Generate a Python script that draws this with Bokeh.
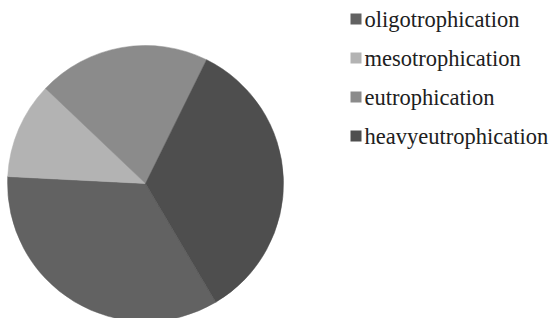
import math
from bokeh.plotting import figure
from bokeh.models import Range1d, ColumnDataSource, Label
from bokeh.embed import file_html
from bokeh.resources import INLINE

categories = ["oligotrophication", "mesotrophication", "eutrophication", "heavyeutrophication"]
shares = [34.3, 11.3, 20.2, 34.2]
colors = ["#626262", "#b3b3b3", "#8b8b8b", "#4e4e4e"]

W, H = 550, 318
p = figure(width=W, height=H, output_backend="svg", toolbar_location=None,
           x_range=Range1d(0, W), y_range=Range1d(0, H),
           min_border=0, outline_line_color=None)
p.axis.visible = False
p.grid.visible = False
p.background_fill_color = "white"
p.border_fill_color = "white"

total = sum(shares)
start0 = math.radians(-59.4)
starts, ends = [], []
a = start0
for s in shares:
    starts.append(a)
    a -= s / total * 2 * math.pi
    ends.append(a)

src = ColumnDataSource(dict(start=starts, end=ends, color=colors, cat=categories))
cx, cy, r = 145, H - 183, 138
p.wedge(x=cx, y=cy, radius=r, start_angle="start", end_angle="end", direction="clock",
        fill_color="color", line_color="color", line_width=0.5, source=src)

ly = [H - 18.5, H - 57.5, H - 96.5, H - 135.5]
lsrc = ColumnDataSource(dict(x=[355.5] * 4, y=ly, color=colors))
p.scatter(x="x", y="y", marker="square", size=11, fill_color="color", line_color=None, source=lsrc)
for i in range(4):
    p.add_layout(Label(x=364, y=ly[i], text=categories[i], text_baseline="middle",
                       text_font="Liberation Serif", text_font_size="22.5px", text_color="#202020"))

open("out.html", "w").write(file_html(p, INLINE))
